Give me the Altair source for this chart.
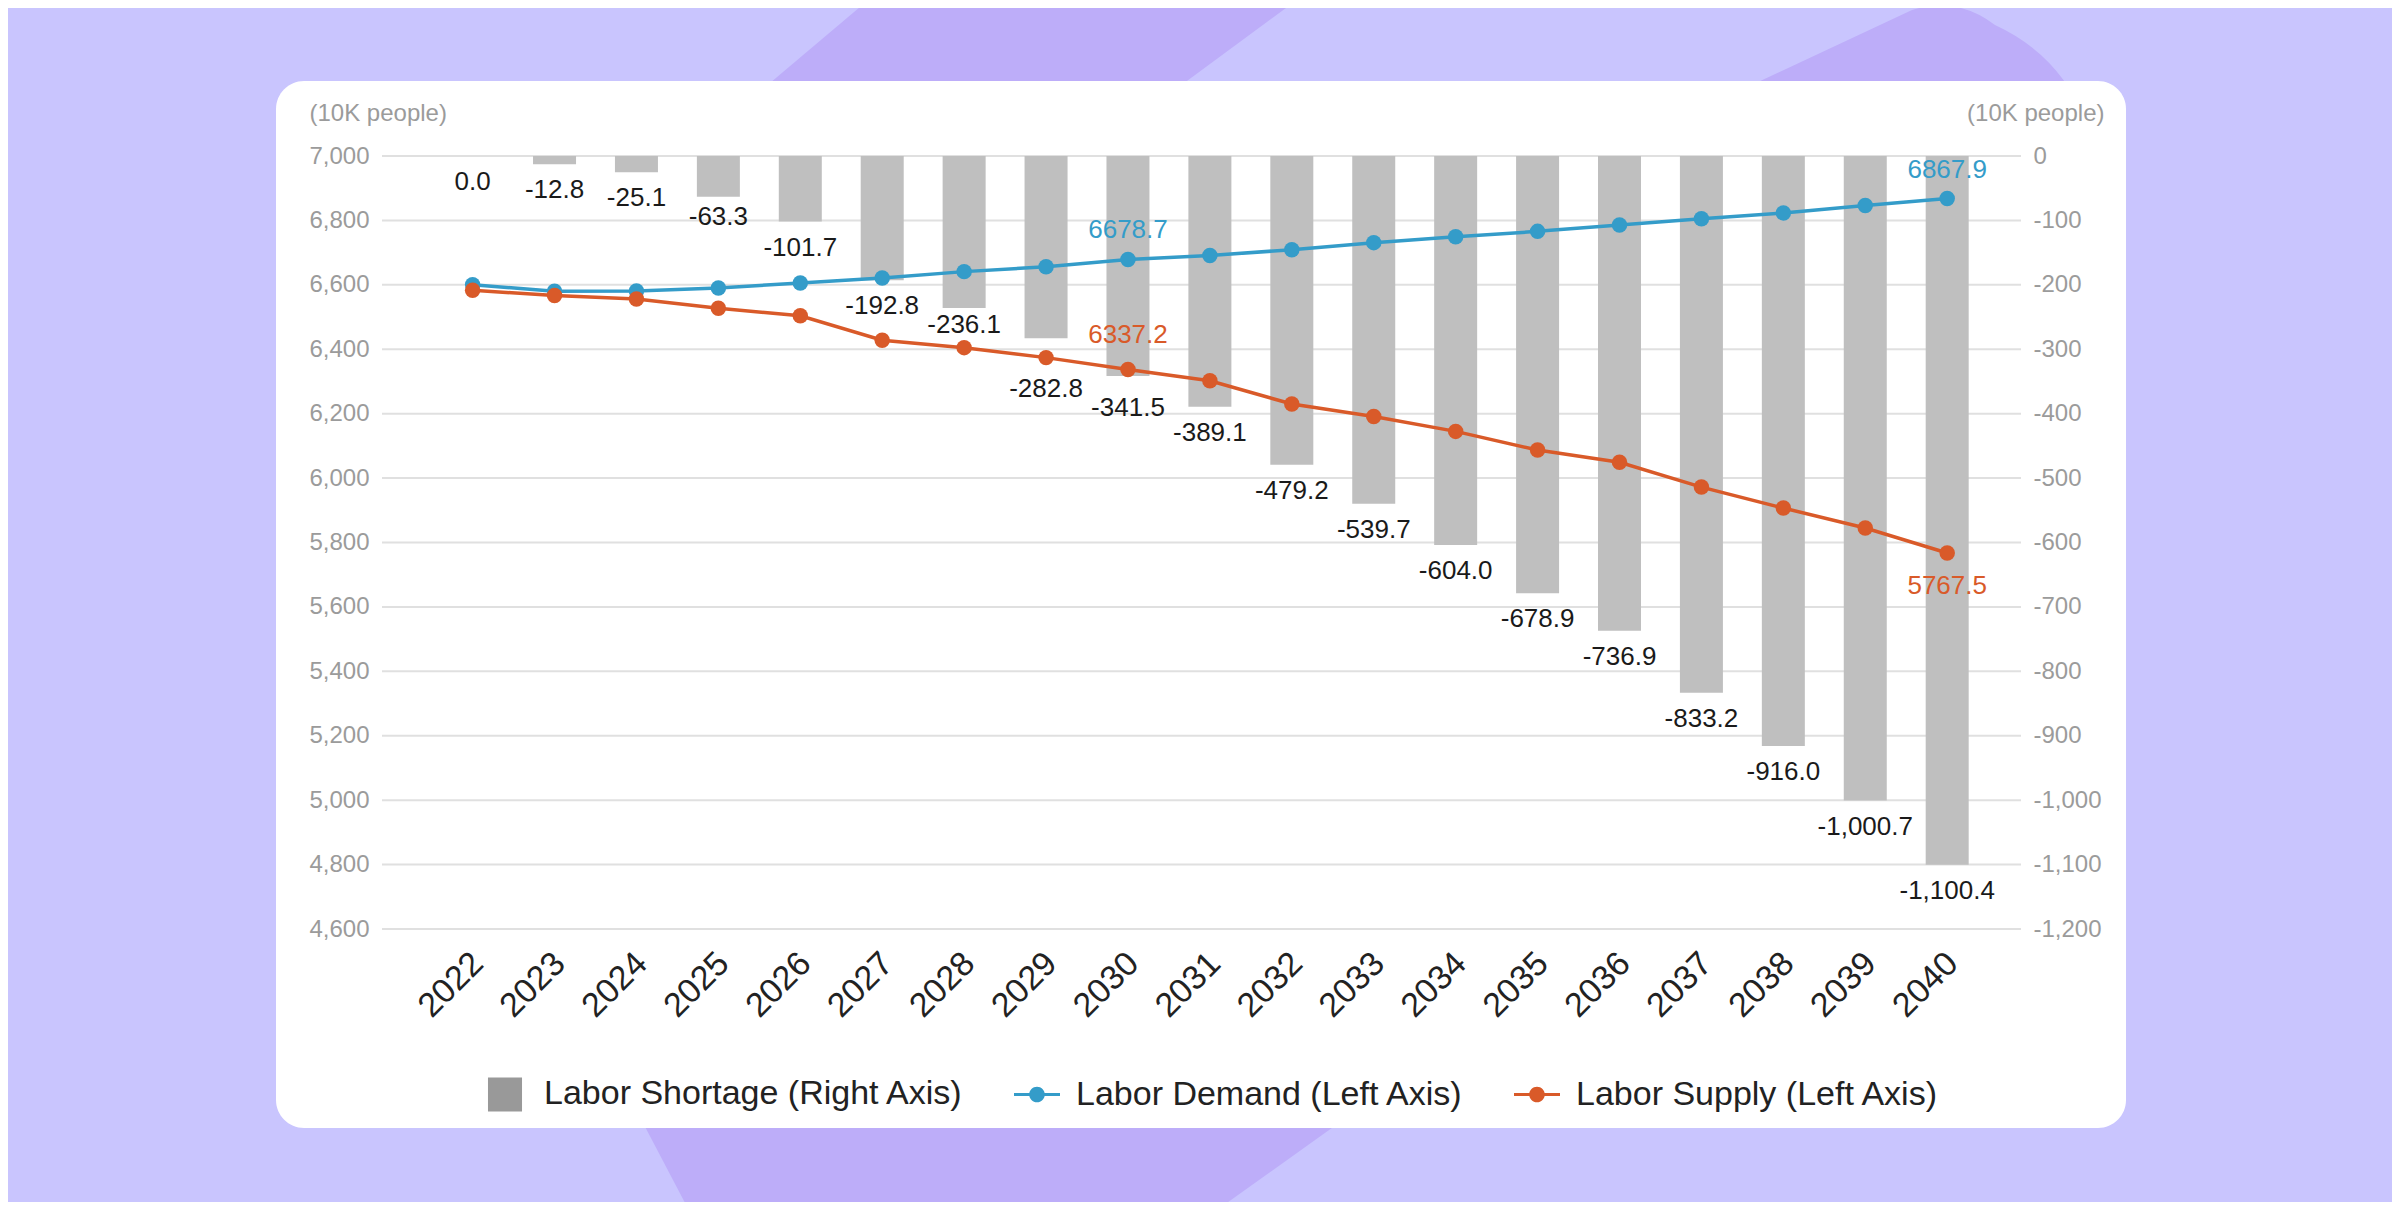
import altair as alt
import pandas as pd

# ---------------- data ----------------
years = list(range(2022, 2041))
demand = [6600, 6580, 6581, 6590, 6606, 6621, 6641, 6656, 6678.7, 6691,
          6709, 6731, 6749, 6766, 6786, 6805, 6823, 6846, 6867.9]
supply = [6583, 6567, 6556, 6527, 6504, 6428, 6405, 6374, 6337.2, 6302,
          6230, 6191, 6145, 6087, 6049, 5972, 5907, 5845, 5767.5]
shortage = [0.0, -12.8, -25.1, -63.3, -101.7, -192.8, -236.1, -282.8, -341.5,
            -389.1, -479.2, -539.7, -604.0, -678.9, -736.9, -833.2, -916.0,
            -1000.7, -1100.4]
labelled_years = [2030, 2040]

left_ticks = list(range(4600, 7001, 200))
right_ticks = list(range(-1200, 1, 100))

series_names = ["Labor Shortage (Right Axis)", "Labor Demand (Left Axis)",
                "Labor Supply (Left Axis)"]
series_colors = ["#999999", "#349cc9", "#d95a29"]

df = pd.DataFrame({"year": years, "demand": demand, "supply": supply,
                   "shortage": shortage})
grid_df = pd.DataFrame({"v": right_ticks})
legend_df = pd.DataFrame({"series": series_names})
one = pd.DataFrame({"k": [0]})

# ---------------- styling ----------------
FONT = "Liberation Sans"
BG = "#c9c5fe"
BLOB = "#bdadf9"
BLUE = series_colors[1]
ORANGE = series_colors[2]
GRAY_TXT = "#9b9b9b"
W, H = 1639, 773

# legend symbols (unit-square SVG paths)
SQ = "M-0.74,-0.74L0.74,-0.74L0.74,0.74L-0.74,0.74Z"
LINE_DOT = ("M-1,-0.065L1,-0.065L1,0.065L-1,0.065Z"
            "M0.34,0A0.34,0.34,0,1,1,-0.34,0A0.34,0.34,0,1,1,0.34,0Z")

# decorative shapes (pixel paths relative to plot origin, size=4 -> 1 unit = 1px)
BLOB_TOP = "M510,-176L942,-176L752,-36L344,-36Z"
BLOB_TOP_RIGHT = "M1295,-36L1530,-146Q1575,-160,1613,-131Q1678,-101,1703,-36Z"
BLOB_BOTTOM = "M249,944L989,944L821,1064L312,1064Z"

X = alt.X("year:Q",
          scale=alt.Scale(domain=[2020.955, 2040.84], nice=False, zero=False),
          axis=alt.Axis(values=years, format="d", labelAngle=-45,
                        labelAlign="right", labelBaseline="middle",
                        labelFontSize=34, labelColor="#222222",
                        labelPadding=29, labelOffset=5, domain=False,
                        ticks=False, tickSize=0, grid=False, title=None,
                        zindex=1, labelFont=FONT))

left_scale = alt.Scale(domain=[4600, 7000], nice=False, zero=False)
left_axis = alt.Axis(orient="left", values=left_ticks, format=",.0f",
                     title="(10K people)", titleAngle=0, titleX=-73, titleY=-43,
                     titleAlign="left", titleBaseline="middle", titleFontSize=24,
                     titleFontWeight="normal", titleColor=GRAY_TXT,
                     titleFont=FONT, labelFont=FONT,
                     labelColor=GRAY_TXT, labelFontSize=24, labelPadding=13,
                     domain=False, ticks=False, tickSize=0, grid=False, zindex=1)

right_scale = alt.Scale(domain=[-1200, 0], nice=False)
right_axis = alt.Axis(orient="right", values=right_ticks, format=",.0f",
                      labelExpr="replace(datum.label, '\u2212', '-')",
                      title="(10K people)", titleAngle=0, titleX=83, titleY=-43,
                      titleAlign="right", titleBaseline="middle", titleFontSize=24,
                      titleFontWeight="normal", titleColor=GRAY_TXT,
                      titleFont=FONT, labelFont=FONT,
                      labelColor=GRAY_TXT, labelFontSize=24, labelPadding=12,
                      domain=False, ticks=False, tickSize=0, grid=False, zindex=1)


def deco(path):
    return alt.Chart(one).mark_point(shape=path, size=4, filled=True,
                                     fill=BLOB, opacity=1, strokeWidth=0).encode(
        x=alt.value(0), y=alt.value(0))


card = alt.Chart(one).mark_rect(fill="white", cornerRadius=28).encode(
    x=alt.value(-106), x2=alt.value(1744), y=alt.value(-75), y2=alt.value(972))

grid = alt.Chart(grid_df).mark_rule(color="#e0e0e0", strokeWidth=2).encode(
    y=alt.Y("v:Q", scale=right_scale, axis=right_axis))

bars = alt.Chart(df).mark_bar(color="#bfbfbf", size=43, orient="vertical").encode(
    x=X, y=alt.Y("shortage:Q", scale=right_scale, axis=right_axis))

LAB_EXPR = "replace(format(datum.shortage, ',.1f'), '\u2212', '-')"


def bar_label(pred, dy):
    return alt.Chart(df).transform_filter(pred).transform_calculate(
        lab=LAB_EXPR).mark_text(fontSize=26, color="#1a1a1a", dy=dy,
                                baseline="middle", font=FONT).encode(
        x=X, y=alt.Y("shortage:Q", scale=right_scale, axis=right_axis),
        text="lab:N")


bl_main = bar_label(alt.FieldOneOfPredicate(field="year", oneOf=years[:3] + years[4:6] + years[9:]), 26)
bl_2025 = bar_label(alt.FieldEqualPredicate(field="year", equal=2025), 20)
bl_2028 = bar_label(alt.FieldEqualPredicate(field="year", equal=2028), 17)
bl_2029 = bar_label(alt.FieldEqualPredicate(field="year", equal=2029), 51)
bl_2030 = bar_label(alt.FieldEqualPredicate(field="year", equal=2030), 32)

right_group = alt.layer(deco(BLOB_TOP), deco(BLOB_TOP_RIGHT), deco(BLOB_BOTTOM),
                        card, grid, bars, bl_main, bl_2025, bl_2028, bl_2029,
                        bl_2030)

Yd = alt.Y("demand:Q", scale=left_scale, axis=left_axis)
Ys = alt.Y("supply:Q", scale=left_scale, axis=left_axis)

d_line = alt.Chart(df).mark_line(color=BLUE, strokeWidth=3.5).encode(x=X, y=Yd)
s_line = alt.Chart(df).mark_line(color=ORANGE, strokeWidth=3.5).encode(x=X, y=Ys)
d_pts = alt.Chart(df).mark_circle(color=BLUE, size=240, opacity=1).encode(x=X, y=Yd)
s_pts = alt.Chart(df).mark_circle(color=ORANGE, size=240, opacity=1).encode(x=X, y=Ys)

sel = alt.FieldOneOfPredicate(field="year", oneOf=labelled_years)
d_lab = alt.Chart(df).transform_filter(sel).mark_text(
    fontSize=26, color=BLUE, dy=-29, font=FONT).encode(
    x=X, y=Yd, text=alt.Text("demand:Q", format=".1f"))
s_lab_up = alt.Chart(df).transform_filter(
    alt.FieldEqualPredicate(field="year", equal=2030)).mark_text(
    fontSize=26, color=ORANGE, dy=-34, font=FONT).encode(
    x=X, y=Ys, text=alt.Text("supply:Q", format=".1f"))
s_lab_dn = alt.Chart(df).transform_filter(
    alt.FieldEqualPredicate(field="year", equal=2040)).mark_text(
    fontSize=26, color=ORANGE, dy=33, font=FONT).encode(
    x=X, y=Ys, text=alt.Text("supply:Q", format=".1f"))

leg = alt.Legend(orient="none", legendX=100, legendY=915, direction="horizontal",
                 columns=3, title=None, labelFontSize=34, labelColor="#222222",
                 labelFont=FONT, symbolSize=2116, labelOffset=16,
                 columnPadding=50, padding=0, labelLimit=700,
                 symbolStrokeWidth=0, symbolOpacity=1)

legend_layer = alt.Chart(legend_df).mark_point(filled=True, opacity=1, size=2116).encode(
    x=alt.value(-4000), y=alt.value(-4000),
    color=alt.Color("series:N", scale=alt.Scale(domain=series_names, range=series_colors),
                    legend=leg),
    shape=alt.Shape("series:N", scale=alt.Scale(domain=series_names,
                                                range=[SQ, LINE_DOT, LINE_DOT]),
                    legend=leg))

left_group = alt.layer(d_line, s_line, d_pts, s_pts, d_lab, s_lab_up, s_lab_dn,
                       legend_layer)

chart = alt.layer(right_group, left_group).resolve_scale(y="independent").properties(
    width=W, height=H,
    autosize=alt.AutoSizeParams(type="none"),
    padding={"left": 374, "top": 148, "right": 371, "bottom": 273},
).configure(background=BG, font=FONT).configure_view(strokeWidth=0)

chart.save("out.html", embed_options={"renderer": "svg", "actions": False})
